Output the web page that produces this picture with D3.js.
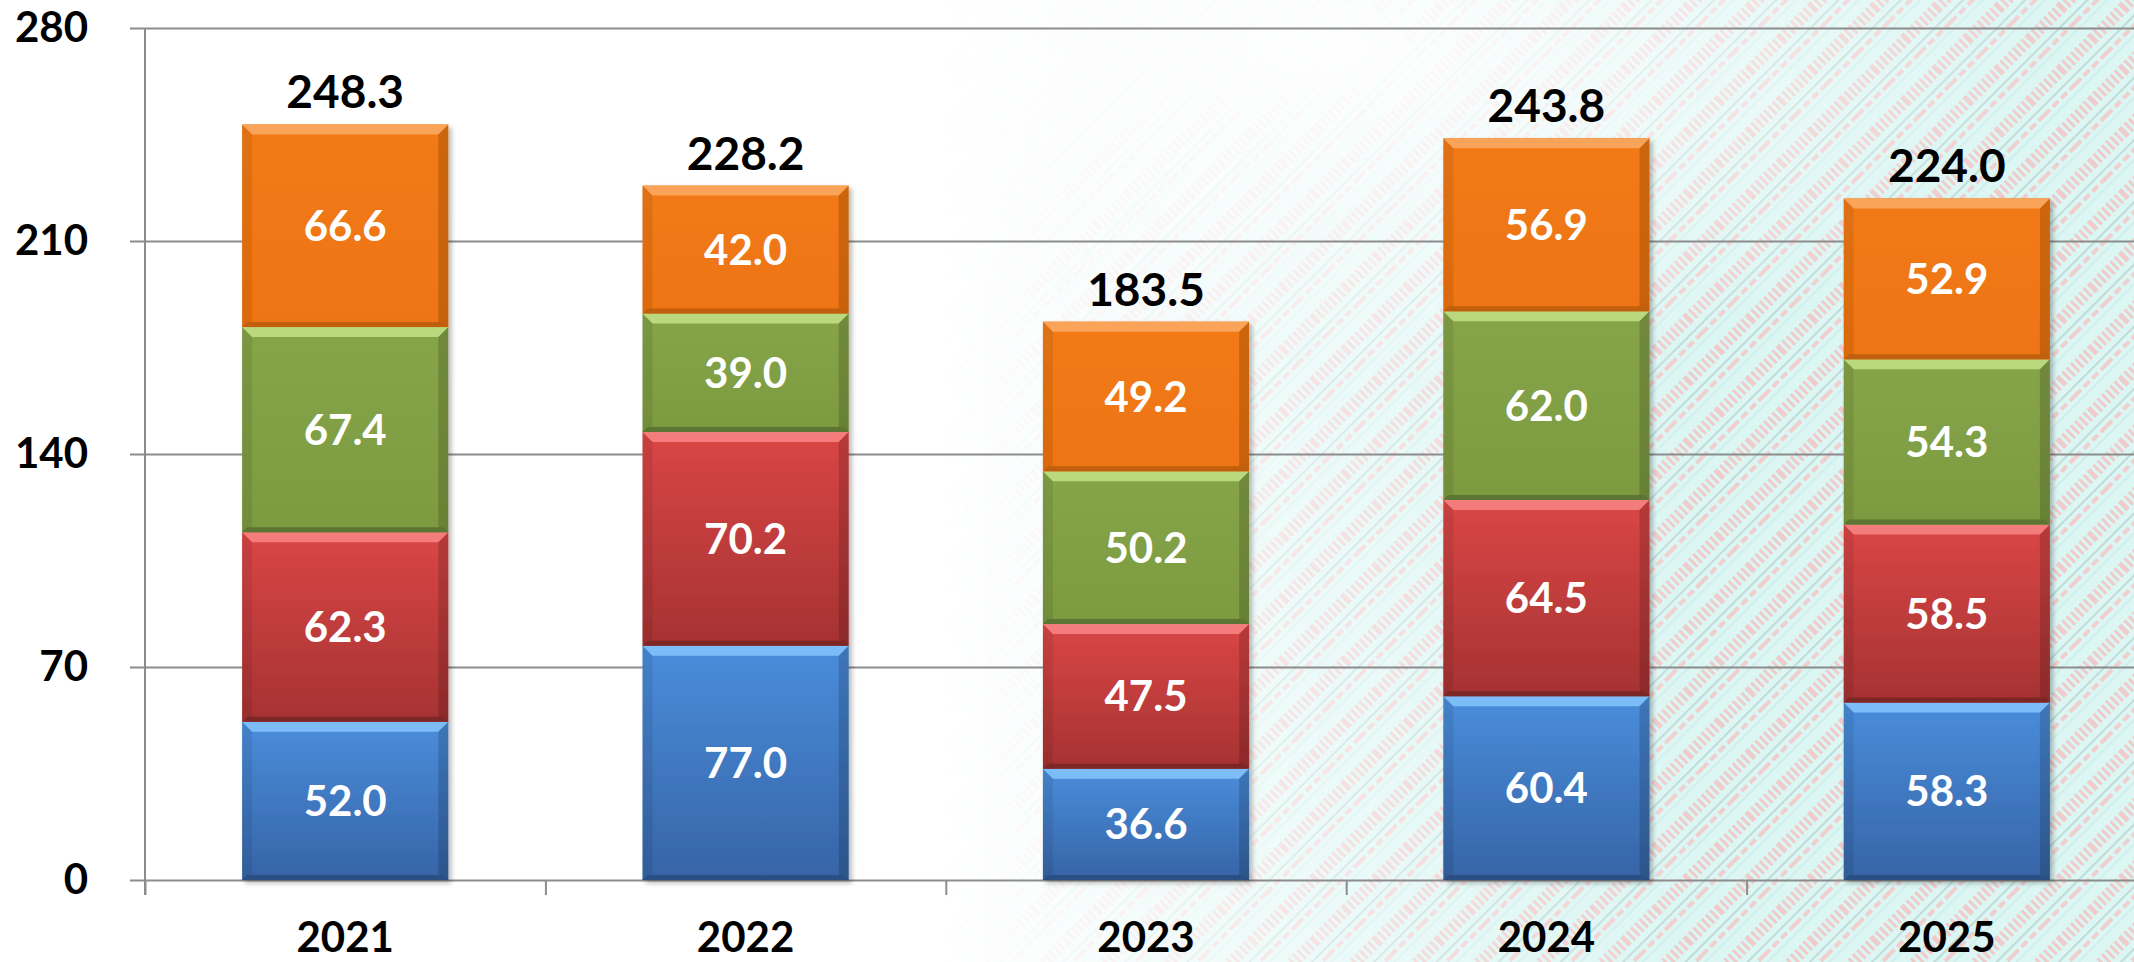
<!DOCTYPE html>
<html>
<head>
<meta charset="utf-8">
<script src="https://cdn.jsdelivr.net/npm/d3@7"></script>
<style>
  html, body { margin: 0; padding: 0; background: #fff; }
  svg { display: block; }
</style>
</head>
<body>
<svg id="chart"></svg>
<script>
"use strict";

// chart values
const years = ["2021", "2022", "2023", "2024", "2025"];
const seriesKeys = ["blue", "red", "green", "orange"];
const blueValues = [52.0, 77.0, 36.6, 60.4, 58.3];
const redValues = [62.3, 70.2, 47.5, 64.5, 58.5];
const greenValues = [67.4, 39.0, 50.2, 62.0, 54.3];
const orangeValues = [66.6, 42.0, 49.2, 56.9, 52.9];
const yTicks = [0, 70, 140, 210, 280];

const width = 2134;
const height = 962;

// colours for each series: body top, body bottom, top bevel, bottom bevel
const palette = {
    blue:   { top: "#4a8ddb", bottom: "#3664a6", light: "#7cbcf7", dark: "#2b4f82" },
    red:    { top: "#da4646", bottom: "#a63232", light: "#f57c7c", dark: "#7c2626" },
    green:  { top: "#86a448", bottom: "#7c9a40", light: "#bad97e", dark: "#5b7430" },
    orange: { top: "#f27a14", bottom: "#ee7412", light: "#faa45a", dark: "#c05e0e" }
};

const table = years.map((year, i) => ({
    year: year,
    blue: blueValues[i],
    red: redValues[i],
    green: greenValues[i],
    orange: orangeValues[i]
}));

const svg = d3.select("#chart")
    .attr("width", width)
    .attr("height", height)
    .attr("viewBox", [0, 0, width, height]);

const defs = svg.append("defs");

// ---------- background: faint circuit pattern fading in on the right ----------
const pattern = defs.append("pattern")
    .attr("id", "circuit")
    .attr("patternUnits", "userSpaceOnUse")
    .attr("width", 44)
    .attr("height", 44)
    .attr("patternTransform", "rotate(-45)");
pattern.append("rect").attr("width", 44).attr("height", 44).attr("fill", "#dbf6f3");
pattern.append("line")
    .attr("x1", 0).attr("x2", 44).attr("y1", 11).attr("y2", 11)
    .attr("stroke", "#efcbcb").attr("stroke-width", 12).attr("stroke-dasharray", "3 3");
pattern.append("line")
    .attr("x1", 0).attr("x2", 44).attr("y1", 24).attr("y2", 24)
    .attr("stroke", "#b8d2cf").attr("stroke-width", 1.5);
pattern.append("line")
    .attr("x1", 0).attr("x2", 44).attr("y1", 31).attr("y2", 31)
    .attr("stroke", "#f0cece").attr("stroke-width", 4).attr("stroke-dasharray", "8 4");
pattern.append("line")
    .attr("x1", 0).attr("x2", 44).attr("y1", 38).attr("y2", 38)
    .attr("stroke", "#c6e7e4").attr("stroke-width", 1);

const fade = defs.append("linearGradient")
    .attr("id", "fade")
    .attr("x1", 0).attr("x2", 1).attr("y1", 0).attr("y2", 0);
fade.append("stop").attr("offset", "0.44").attr("stop-color", "#fff").attr("stop-opacity", 0);
fade.append("stop").attr("offset", "0.62").attr("stop-color", "#fff").attr("stop-opacity", 0.55);
fade.append("stop").attr("offset", "0.8").attr("stop-color", "#fff").attr("stop-opacity", 1);

const mask = defs.append("mask").attr("id", "fadeMask");
mask.append("rect").attr("width", width).attr("height", height).attr("fill", "url(#fade)");

const glow = defs.append("radialGradient")
    .attr("id", "glow")
    .attr("cx", 0.62).attr("cy", 0.05).attr("r", 0.35);
glow.append("stop").attr("offset", "0").attr("stop-color", "#fff").attr("stop-opacity", 0.95);
glow.append("stop").attr("offset", "1").attr("stop-color", "#fff").attr("stop-opacity", 0);

svg.append("rect").attr("width", width).attr("height", height).attr("fill", "#fff");
svg.append("rect")
    .attr("width", width).attr("height", height)
    .attr("fill", "url(#circuit)")
    .attr("mask", "url(#fadeMask)");
svg.append("rect").attr("width", width).attr("height", height).attr("fill", "url(#glow)");

// ---------- scales ----------
const x = d3.scaleBand()
    .domain(years)
    .range([145, 2147])
    .paddingInner(0.485)
    .paddingOuter(0.2425);

const y = d3.scaleLinear()
    .domain([0, 280])
    .range([880, 28]);

const fontFamily = "Lato, 'Open Sans', 'Liberation Sans', sans-serif";

// ---------- gridlines and axes ----------
svg.append("g")
    .attr("transform", "translate(145,0)")
    .call(d3.axisLeft(y).tickValues(yTicks).tickSize(15).tickPadding(42))
    .call(g => g.select(".domain")
        .attr("d", `M0,${y(280)}V${y(0) + 15}`)
        .attr("stroke", "#8c8c8c")
        .attr("stroke-width", 2))
    .call(g => g.selectAll(".tick line")
        .attr("x1", 0)
        .attr("x2", width - 145 + 15)
        .attr("transform", "translate(-15,0)")
        .attr("stroke", "#8c8c8c")
        .attr("stroke-width", 2))
    .call(g => g.selectAll(".tick text")
        .attr("fill", "#000")
        .attr("font-family", fontFamily)
        .attr("font-weight", 700)
        .style("font-size", "42px"));

// category boundary ticks under the baseline
const xEdge = d3.scaleLinear().domain([0, years.length]).range(x.range());
svg.append("g")
    .attr("transform", `translate(0,${y(0)})`)
    .call(d3.axisBottom(xEdge).tickValues(d3.range(0, years.length + 1)).tickSize(15).tickFormat(""))
    .call(g => g.select(".domain").remove())
    .call(g => g.selectAll(".tick line").attr("stroke", "#8c8c8c").attr("stroke-width", 2));

svg.append("g")
    .selectAll("text")
    .data(years)
    .join("text")
    .attr("x", d => x(d) + x.bandwidth() / 2)
    .attr("y", 952)
    .attr("text-anchor", "middle")
    .attr("font-family", fontFamily)
    .attr("font-weight", 700)
    .style("font-size", "42px")
    .attr("fill", "#000")
    .text(d => d);

// ---------- stacked bars with bevelled segments ----------
seriesKeys.forEach(key => {
    const c = palette[key];
    const grad = defs.append("linearGradient")
        .attr("id", "grad-" + key)
        .attr("x1", 0).attr("x2", 0).attr("y1", 0).attr("y2", 1);
    grad.append("stop").attr("offset", "0").attr("stop-color", c.top);
    grad.append("stop").attr("offset", "1").attr("stop-color", c.bottom);
});

defs.append("filter")
    .attr("id", "shadow")
    .attr("x", "-10%").attr("y", "-10%").attr("width", "130%").attr("height", "130%")
    .append("feDropShadow")
    .attr("dx", 3).attr("dy", 3).attr("stdDeviation", 2.5)
    .attr("flood-color", "#000").attr("flood-opacity", 0.28);

const stacked = d3.stack().keys(seriesKeys)(table);

const bars = svg.append("g").attr("filter", "url(#shadow)");

stacked.forEach(series => {
    const key = series.key;
    const c = palette[key];
    const seg = bars.append("g")
        .selectAll("g")
        .data(series)
        .join("g");

    const x0 = d => x(d.data.year);
    const x1 = d => x(d.data.year) + x.bandwidth();
    const top = d => y(d[1]);
    const bot = d => y(d[0]);
    const bt = 10; // top bevel
    const bb = 5;  // bottom bevel

    seg.append("rect")
        .attr("x", x0)
        .attr("y", top)
        .attr("width", x.bandwidth())
        .attr("height", d => bot(d) - top(d))
        .attr("fill", `url(#grad-${key})`);

    // top bevel
    seg.append("path")
        .attr("fill", c.light)
        .attr("d", d => `M${x0(d)},${top(d)}H${x1(d)}L${x1(d) - bt},${top(d) + bt}H${x0(d) + bt}Z`);

    // left bevel
    seg.append("path")
        .attr("fill", "#000")
        .attr("fill-opacity", 0.08)
        .attr("d", d => `M${x0(d)},${top(d)}L${x0(d) + bt},${top(d) + bt}V${bot(d) - bb}L${x0(d)},${bot(d)}Z`);

    // right bevel
    seg.append("path")
        .attr("fill", "#000")
        .attr("fill-opacity", 0.16)
        .attr("d", d => `M${x1(d)},${top(d)}L${x1(d) - bt},${top(d) + bt}V${bot(d) - bb}L${x1(d)},${bot(d)}Z`);

    // bottom bevel
    seg.append("path")
        .attr("fill", c.dark)
        .attr("d", d => `M${x0(d)},${bot(d)}H${x1(d)}L${x1(d) - bb},${bot(d) - bb}H${x0(d) + bb}Z`);
});

// value labels inside the segments
stacked.forEach(series => {
    svg.append("g")
        .selectAll("text")
        .data(series)
        .join("text")
        .attr("x", d => x(d.data.year) + x.bandwidth() / 2)
        .attr("y", d => (y(d[0]) + y(d[1])) / 2)
        .attr("dy", "0.36em")
        .attr("text-anchor", "middle")
        .attr("font-family", fontFamily)
        .attr("font-weight", 700)
        .style("font-size", "42px")
        .attr("fill", "#fff")
        .text(d => d3.format(".1f")(d.data[series.key]));
});

// totals above the bars
svg.append("g")
    .selectAll("text")
    .data(table)
    .join("text")
    .attr("x", d => x(d.year) + x.bandwidth() / 2)
    .attr("y", d => y(d3.sum(seriesKeys, k => d[k])) - 16)
    .attr("text-anchor", "middle")
    .attr("font-family", fontFamily)
    .attr("font-weight", 700)
    .style("font-size", "46px")
    .attr("fill", "#000")
    .text(d => d3.format(".1f")(d3.sum(seriesKeys, k => d[k])));
</script>
</body>
</html>
